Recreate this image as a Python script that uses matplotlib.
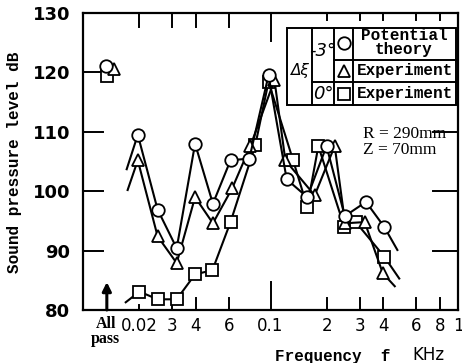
import matplotlib
matplotlib.use("Agg")
import matplotlib.pyplot as plt
from matplotlib.lines import Line2D

# ---------------- data (kHz, dB) ----------------
allpass_x = 0.0134
allpass_circle = (0.0133, 121.0)
allpass_triangle = (0.0146, 120.5)
allpass_square = (0.0134, 119.4)

circle_f = [0.0196, 0.025, 0.0316, 0.0396, 0.0493, 0.0612, 0.0771, 0.0976, 0.122, 0.157, 0.199, 0.249, 0.323, 0.404]
circle_db = [109.5, 96.9, 90.4, 108.0, 97.9, 105.2, 105.5, 119.5, 102.0, 99.0, 107.6, 95.8, 98.2, 94.0]

triangle_f = [0.0196, 0.025, 0.0316, 0.0396, 0.0493, 0.0625, 0.0781, 0.105, 0.12, 0.172, 0.22, 0.25, 0.318, 0.397]
triangle_db = [105.2, 92.4, 87.9, 99.0, 94.6, 100.5, 107.6, 118.7, 105.2, 99.3, 107.6, 94.6, 94.8, 86.2]

square_f = [0.02, 0.025, 0.0316, 0.0396, 0.049, 0.0612, 0.0829, 0.0976, 0.132, 0.157, 0.18, 0.248, 0.285, 0.404]
square_db = [83.1, 81.8, 81.8, 86.0, 86.7, 94.8, 107.7, 118.4, 105.2, 97.4, 107.6, 93.9, 94.8, 89.0]

# curve continuations (no markers) at both ends
circle_lead_in = ([0.0171, 0.0196], [103.7, 109.5])
triangle_lead_in = ([0.0173, 0.0196], [100.2, 105.2])
square_lead_in = ([0.0169, 0.02], [81.3, 83.1])
circle_lead_out = ([0.404, 0.475], [94.0, 90.1])
triangle_lead_out = ([0.397, 0.46], [86.2, 84.0])
square_lead_out = ([0.404, 0.486], [89.0, 85.3])

xtick_vals = [0.02, 0.03, 0.04, 0.06, 0.1, 0.2, 0.3, 0.4, 0.6, 0.8, 1.0]
xtick_labels = ["0.02", "3", "4", "6", "0.1", "2", "3", "4", "6", "8", "1"]
ytick_vals = [80, 90, 100, 110, 120, 130]
ytick_labels = ["80", "90", "100", "110", "120", "130"]

# ---------------- figure ----------------
W, H = 462, 363
fig = plt.figure(figsize=(W / 100, H / 100), dpi=100)
L, R, T, B = 83, 458, 13, 310
ax = fig.add_axes([L / W, (H - B) / H, (R - L) / W, (B - T) / H])
ax.set_xscale("log")
ax.set_xlim(0.01, 0.964)
ax.set_ylim(80, 130)
for s in ax.spines.values():
    s.set_linewidth(1.6)
    s.set_color("black")

def fy(px):  # pixel length -> axes fraction (vertical)
    return px / (B - T)

def fx(px):
    return px / (R - L)

# tick labels
ax.set_xticks(xtick_vals)
ax.set_xticklabels(xtick_labels, fontsize=12, family="DejaVu Sans")
ax.xaxis.set_minor_locator(matplotlib.ticker.NullLocator())
ax.tick_params(axis="x", length=0, pad=5)
ax.set_yticks(ytick_vals)
ax.set_yticklabels(ytick_labels, fontsize=13, fontweight="bold", family="DejaVu Sans")
ax.tick_params(axis="y", length=0, pad=9)

# manual tick marks
xt = ax.get_xaxis_transform()
yt = ax.get_yaxis_transform()
bot_len = {0.02: 5, 0.03: 12, 0.04: 12, 0.06: 12, 0.1: 28, 0.2: 12, 0.3: 12, 0.4: 12, 0.6: 12, 0.8: 12}
top_len = {0.02: 14, 0.03: 14, 0.04: 14, 0.06: 14, 0.1: 28, 0.2: 7, 0.3: 7, 0.4: 7, 0.6: 7, 0.8: 7}
for v, l in bot_len.items():
    ax.plot([v, v], [0, fy(l)], transform=xt, color="k", lw=1.4, clip_on=False)
for v, l in top_len.items():
    ax.plot([v, v], [1, 1 - fy(l)], transform=xt, color="k", lw=1.4, clip_on=False)
for v in [90, 100, 110, 120]:
    ax.plot([0, fx(20)], [v, v], transform=yt, color="k", lw=1.4)
for v in [90, 100, 110]:
    ax.plot([1, 1 - fx(25)], [v, v], transform=yt, color="k", lw=1.4)

# all-pass label and arrow
ax.text(allpass_x * 0.985, -fy(6), "All\npass", transform=xt, ha="center", va="top",
        family="Liberation Serif", fontsize=11.5, fontweight="bold", linespacing=0.9)
ax.annotate("", xy=(allpass_x, 84.7), xytext=(allpass_x, 80.0),
            arrowprops=dict(arrowstyle="-|>", lw=2.2, color="k", mutation_scale=13,
                            shrinkA=0, shrinkB=0))

# ---------------- data lines ----------------
lw = 1.5
mk = dict(markerfacecolor="white", markeredgecolor="black", markeredgewidth=1.3)
for lx, ly in [circle_lead_in, triangle_lead_in, square_lead_in,
               circle_lead_out, triangle_lead_out, square_lead_out]:
    ax.plot(lx, ly, color="k", lw=lw)
ax.plot(square_f, square_db, color="k", lw=lw, marker="s", markersize=8, **mk, zorder=3)
ax.plot(triangle_f, triangle_db, color="k", lw=lw, marker="^", markersize=9, **mk, zorder=4)
ax.plot(circle_f, circle_db, color="k", lw=lw, marker="o", markersize=9, **mk, zorder=5)
ax.plot(*allpass_square, marker="s", markersize=8, **mk, zorder=3)
ax.plot(*allpass_triangle, marker="^", markersize=9, **mk, zorder=4)
ax.plot(*allpass_circle, marker="o", markersize=9, **mk, zorder=5)

# ---------------- legend table ----------------
def ax_x(px):
    return (px - L) / (R - L)

def ax_y(py):
    return (B - py) / (B - T)

ta = ax.transAxes
def seg(x0, y0, x1, y1):
    ax.add_line(Line2D([ax_x(x0), ax_x(x1)], [ax_y(y0), ax_y(y1)], transform=ta,
                       color="k", lw=1.4, zorder=6))

ax.add_patch(plt.Rectangle((ax_x(287), ax_y(105)), ax_x(456) - ax_x(287), ax_y(28) - ax_y(105),
                           transform=ta, facecolor="white", edgecolor="black", lw=1.4, zorder=6))
seg(312, 28, 312, 105)
seg(334, 28, 334, 105)
seg(353, 28, 353, 105)
seg(334, 60, 456, 60)
seg(312, 82, 456, 82)
ax.text(ax_x(300), ax_y(71), "Δξ", transform=ta, ha="center", va="center", fontsize=11,
        style="italic", zorder=7)
ax.text(ax_x(323), ax_y(51), "-3°", transform=ta, ha="center", va="center", fontsize=13,
        style="italic", zorder=7)
ax.text(ax_x(323), ax_y(94), "0°", transform=ta, ha="center", va="center", fontsize=13,
        style="italic", zorder=7)
ax.plot([ax_x(343.5)], [ax_y(43)], transform=ta, marker="o", markersize=9, **mk, zorder=7, clip_on=False)
ax.plot([ax_x(343.5)], [ax_y(71)], transform=ta, marker="^", markersize=9, **mk, zorder=7, clip_on=False)
ax.plot([ax_x(343.5)], [ax_y(94)], transform=ta, marker="s", markersize=8, **mk, zorder=7, clip_on=False)
lf = dict(transform=ta, ha="center", va="center", family="Liberation Mono", fontweight="bold",
          fontsize=11.5, zorder=7)
ax.text(ax_x(404), ax_y(36), "Potential", **lf)
ax.text(ax_x(404), ax_y(50), "theory", **lf)
ax.text(ax_x(404.5), ax_y(71), "Experiment", **lf)
ax.text(ax_x(404.5), ax_y(94), "Experiment", **lf)

# R, Z annotation
ax.text(ax_x(363), ax_y(142), "R = 290mm\nZ = 70mm", transform=ta, ha="left", va="center",
        family="Liberation Serif", fontsize=12.5, linespacing=1.0)

# axis labels
fig.text(15 / W, 1 - 162 / H, "Sound pressure level dB", rotation=90, ha="center", va="center",
         family="Liberation Mono", fontweight="bold", fontsize=11.5)
fig.text(275 / W, 1 - 356 / H, "Frequency  f", ha="left", va="center",
         family="Liberation Mono", fontweight="bold", fontsize=11.5)
fig.text(412 / W, 1 - 355 / H, "KHz", ha="left", va="center", family="DejaVu Sans", fontsize=12)

fig.savefig("out.png", dpi=100)
